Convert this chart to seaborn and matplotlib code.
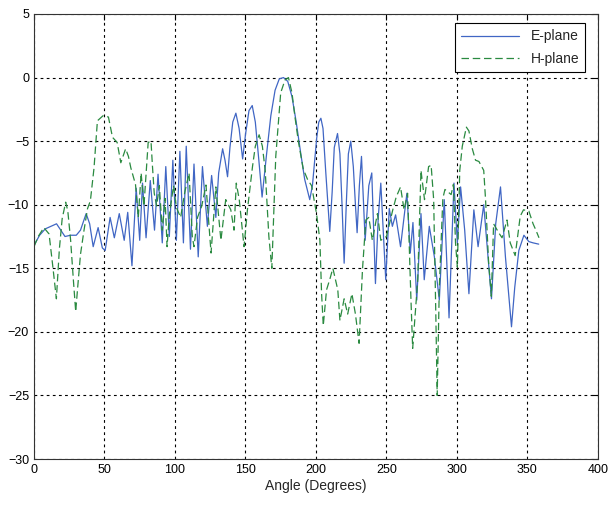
import matplotlib
matplotlib.use('Agg')
import matplotlib.pyplot as plt
import seaborn as sns

# E-plane pattern (degrees, dB)
e_ang = [0, 4, 8, 12, 16, 19, 22, 26, 30, 33, 37, 39.5, 42, 45.5, 48.5, 50.5,
         54, 57, 60.5, 64, 66.5, 69.5, 72.5, 75, 77, 79.5, 82.5, 85.5, 88, 91,
         93.5, 96, 98.5, 101, 103.5, 106, 108, 111, 113.5, 116.5, 119.5, 123,
         126, 129, 131, 133.8, 135.5, 137.3, 139, 141, 143.2, 145.5, 148, 150,
         152.5, 154.8, 157, 159.5, 161.8, 165, 168, 171, 174,
         177, 180, 183, 186, 189, 192, 195.6, 197.5, 200.5, 202, 203.5, 205,
         207, 209.8, 211.5, 213, 215.3, 217, 218.5, 220, 221.5, 223, 224.7,
         226.5, 228, 229.2, 230.8, 232.3, 234.9, 237.5, 239.6, 242.2, 244.2,
         246, 249.5, 252, 254.2,
         256.5, 260, 264.5, 266.9, 268.8, 271.5, 274.5, 276.8, 280.4, 284,
         287.5, 291, 294.4, 297.9, 300.3, 302.6, 305.5, 308.5, 312, 315, 319,
         324.5, 327.5, 330.9, 334.4, 338.7, 341, 343.9, 347.5, 351, 354, 358]
e_db = [-13.2, -12.4, -11.9, -11.7, -11.5, -12.0, -12.5, -12.4, -12.4, -12.0,
        -10.7, -11.5, -13.3, -11.8, -13.4, -13.6, -11.0, -12.6, -10.7, -12.8,
        -10.6, -14.8, -8.7, -12.8, -8.3, -12.6, -8.1, -12.0, -7.6, -13.0,
        -7.0, -12.5, -6.5, -12.8, -5.8, -13.0, -5.4, -13.5, -6.8, -14.1,
        -7.0, -11.7, -7.7, -11.0, -7.5, -5.6, -6.5, -7.8, -5.5, -3.5, -2.8,
        -4.0, -6.4, -4.5, -2.6, -2.2, -3.5, -6.5, -9.4,
        -6.0, -3.0, -1.0, -0.1, 0.0, -0.3, -1.5, -3.5, -5.8, -8.0,
        -9.6, -8.5, -4.8, -3.5, -3.2, -4.0, -7.5, -12.1, -9.0, -5.5, -4.4,
        -6.0, -10.0, -14.6, -10.0, -6.0, -5.0, -7.0, -10.0, -12.2, -8.5,
        -6.2, -12.8, -8.5, -7.5, -16.2, -11.0, -8.3, -15.9, -10.3, -11.7,
        -10.8, -13.3, -9.1,
        -13.8, -11.4, -17.5, -10.7, -15.9, -11.7, -14.1, -17.5, -9.6, -18.9,
        -8.3, -13.0, -8.6, -12.0, -17.0, -10.4, -13.3, -10.0, -17.4, -11.5,
        -8.6, -14.1, -19.6, -16.5, -13.6, -12.4, -12.9, -13.0, -13.1]

# H-plane pattern (degrees, dB)
h_ang = [0, 3, 7, 10.7, 13, 15.9, 18, 20, 22.5, 24, 26, 28, 29.6, 31, 33, 35.5,
         38, 40, 42.6, 45, 49, 52.8, 55.7, 59, 61.6, 65, 67, 68.7, 72, 74, 76,
         78, 81, 83, 84, 85.3, 87, 88.9, 91, 93, 94.4, 96, 99, 101, 104, 107,
         110, 112.3, 113.5, 116, 119, 122, 125.6, 129, 132.6, 136, 139.6,
         141.9, 143.5, 145.6, 149, 151.4, 155, 157, 159.7, 162, 164, 166.6,
         168.7, 171.5, 175, 178, 180.5, 183, 185, 187.5, 191, 194, 196.9,
         200.4, 202.8, 204, 205.2, 207.5, 210, 212, 215.5, 217, 220, 222.5,
         225.5, 228, 230.6, 233, 235.4, 237.5, 240, 243.6, 246, 250, 254.5,
         256.9, 260, 262.5, 265, 267.4, 268.6, 272.2, 274.5, 277, 279.9,
         281.7, 283.5, 285, 286, 287.5, 290, 291.5, 295.9, 297.5, 299, 300.3,
         302, 303.8, 306.7, 308.5, 310.9, 313.2, 315.6, 319, 320.3, 322.5,
         324.4, 326, 329.6, 332, 335.5, 337.8, 341.3, 344.9, 347.2, 351, 354,
         356, 358.2]
h_db = [-13.3, -12.5, -11.8, -12.3, -14.5, -17.4, -13.5, -11.1, -9.8, -10.5,
        -12.8, -16.0, -18.4, -16.5, -13.9, -12.0, -10.3, -9.7, -7.1, -3.4,
        -3.0, -3.1, -4.7, -5.1, -6.7, -5.6, -6.2, -7.1, -8.4, -11.0, -7.5,
        -10.1, -5.1, -5.0, -6.9, -9.1, -10.1, -8.5, -12.0, -9.5, -13.3, -10.8,
        -8.5, -10.2, -11.0, -9.0, -7.5, -12.5, -13.3, -11.0, -10.1, -8.45,
        -13.8, -8.6, -12.8, -9.6, -10.4, -12.0, -8.3, -9.6, -13.3, -10.4,
        -7.0, -5.4, -4.5, -5.4, -7.3, -12.5, -15.0, -6.2, -1.2, -0.2, 0.0,
        -1.2, -3.0, -5.0, -7.2, -8.0, -8.5, -10.7, -12.8, -17.0, -19.5, -16.7,
        -15.8, -15.0, -16.7, -19.1, -17.4, -18.6, -17.0, -18.6, -20.9, -15.1,
        -11.2, -11.0, -12.8, -10.7, -12.8, -12.5, -10.4, -9.4, -8.6, -10.4,
        -9.1, -17.5, -21.3, -15.9, -7.3, -9.6, -7.0, -6.9, -9.6, -18.5, -25.0,
        -16.5, -9.5, -8.8, -9.2, -8.4, -13.0, -14.9, -7.3, -5.4, -3.9, -4.2,
        -5.6, -6.5, -6.6, -7.3, -9.6, -14.6, -17.2, -11.5, -12.2, -12.6,
        -11.2, -13.0, -14.0, -10.9, -10.4, -10.5, -11.5, -12.0, -12.6]

x_ticks = [0, 50, 100, 150, 200, 250, 300, 350, 400]
y_ticks = [-30, -25, -20, -15, -10, -5, 0, 5]

sns.set_style('white')
plt.rcParams['font.family'] = ['Liberation Sans', 'DejaVu Sans']

fig = plt.figure(figsize=(6.11, 5.09), dpi=100)
ax = fig.add_axes([0.0556, 0.0982, 0.923, 0.8743])

sns.lineplot(x=e_ang, y=e_db, ax=ax, color='#4066c4', linewidth=0.9,
             label='E-plane', estimator=None, sort=False)
sns.lineplot(x=h_ang, y=h_db, ax=ax, color='#2a8a40', linewidth=0.9,
             linestyle=(0, (6, 3)), label='H-plane', estimator=None, sort=False)

ax.set_xlim(0, 400)
ax.set_ylim(-30, 5)
ax.set_xticks(x_ticks)
ax.set_yticks(y_ticks)
ax.grid(True, color='black', linestyle=(0, (2.5, 3)), linewidth=0.8)
ax.tick_params(direction='in', top=True, right=True, length=4, width=0.8,
               labelsize=9, colors='black')
for sp in ax.spines.values():
    sp.set_color('#333333')
    sp.set_linewidth(0.8)

ax.set_xlabel('Angle (Degrees)', fontsize=10, labelpad=2)
ax.set_ylabel('')

leg = ax.legend(loc='upper right', fontsize=10, handlelength=4.2,
                labelspacing=0.6, handletextpad=0.8, borderpad=0.45,
                fancybox=False, framealpha=1, edgecolor='black',
                bbox_to_anchor=(0.99, 0.995))
leg.get_frame().set_linewidth(0.8)

fig.savefig('out.png', dpi=100, facecolor='white')
